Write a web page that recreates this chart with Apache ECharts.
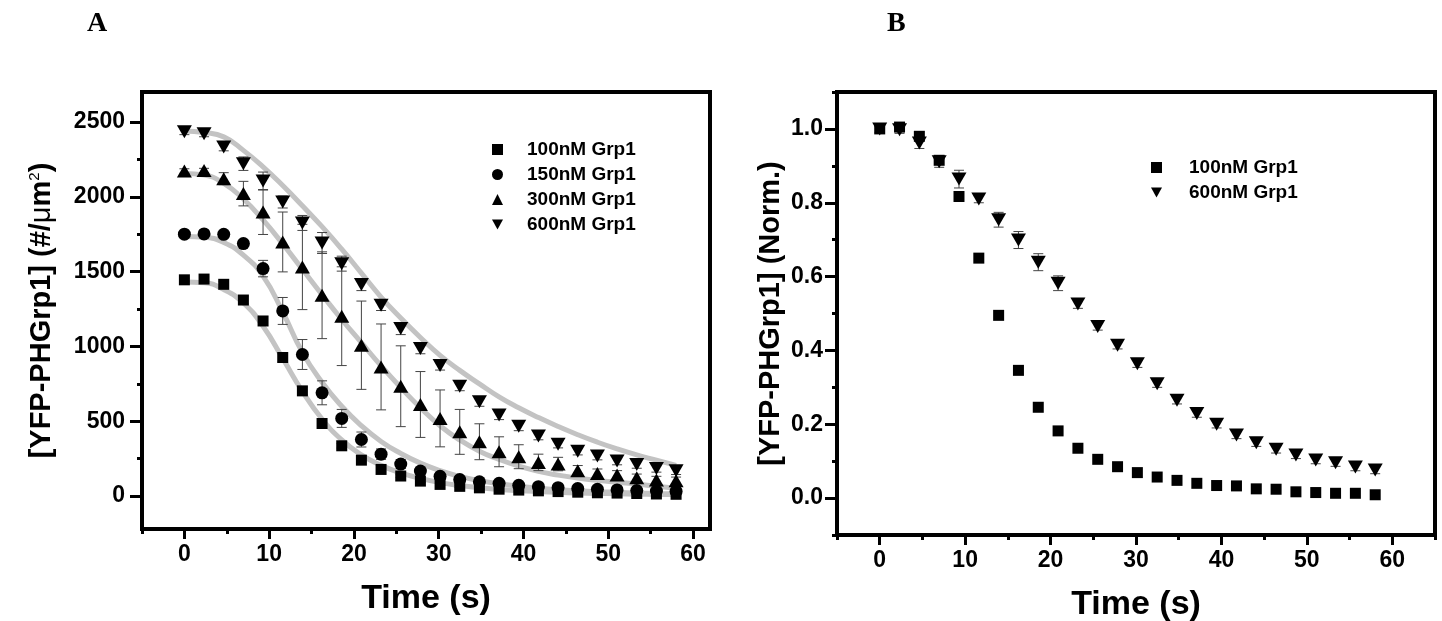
<!DOCTYPE html>
<html><head><meta charset="utf-8">
<script src="https://cdn.jsdelivr.net/npm/echarts@6/dist/echarts.min.js"></script>
<style>html,body{margin:0;padding:0;background:#fff}#c{width:1442px;height:621px}</style>
</head><body><div id="c"></div>
<script>
// ---- data ----
const times = [0, 2.32, 4.64, 6.96, 9.28, 11.6, 13.92, 16.24, 18.56, 20.88, 23.2, 25.52, 27.84, 30.16, 32.48, 34.8, 37.12, 39.44, 41.76, 44.08, 46.4, 48.72, 51.04, 53.36, 55.68, 58];
const namesA = ['100nM Grp1', '150nM Grp1', '300nM Grp1', '600nM Grp1'];
const namesB = ['100nM Grp1', '600nM Grp1'];

// Panel A: density (#/um^2)
const a100 = [1445, 1450, 1415, 1310, 1170, 926, 703, 485, 336, 240, 178, 134, 100, 78, 65, 55, 46, 40, 35, 30, 26, 22, 20, 17, 14, 12];
const a150 = [1750, 1752, 1749, 1687, 1520, 1237, 946, 690, 519, 378, 280, 214, 167, 132, 110, 95, 85, 72, 63, 56, 50, 45, 41, 37, 34, 31];
const a300 = [2172, 2175, 2121, 2021, 1898, 1698, 1531, 1342, 1202, 1008, 863, 734, 612, 519, 429, 363, 296, 263, 225, 214, 169, 151, 140, 122, 107, 102];
const a600 = [2435, 2421, 2332, 2221, 2105, 1965, 1825, 1691, 1553, 1413, 1275, 1119, 986, 872, 734, 630, 541, 467, 401, 347, 300, 267, 234, 211, 185, 169];
const e100 = [10, 15, 20, 25, 30, 30, 25, 20, 15, 12, 10, 10, 10, 8, 8, 8, 8, 8, 8, 8, 8, 8, 8, 8, 8, 8];
const e150 = [10, 10, 10, 20, 55, 90, 100, 80, 60, 50, 35, 30, 25, 20, 18, 16, 15, 15, 15, 15, 15, 15, 15, 15, 15, 15];
const e300 = [15, 15, 40, 82, 150, 200, 285, 290, 330, 295, 287, 270, 220, 190, 150, 120, 100, 80, 55, 45, 35, 30, 30, 25, 25, 25];
const e600 = [20, 20, 25, 45, 60, 40, 50, 70, 50, 40, 35, 40, 35, 30, 30, 30, 30, 30, 25, 25, 25, 25, 25, 25, 25, 25];
// fitted curves (grey)
const f100 = [1430, 1425, 1380, 1290, 1135, 920, 700, 515, 375, 275, 205, 155, 118, 90, 70, 55, 44, 36, 30, 25, 21, 18, 15, 13, 11, 10];
const f150 = [1735, 1730, 1695, 1610, 1470, 1230, 960, 760, 600, 470, 365, 285, 220, 170, 132, 103, 82, 65, 52, 43, 35, 29, 25, 21, 18, 16];
const f300 = [2155, 2145, 2090, 1985, 1845, 1685, 1515, 1345, 1180, 1025, 870, 725, 590, 470, 375, 300, 245, 200, 165, 140, 120, 105, 92, 80, 65, 52];
const f600 = [2440, 2430, 2400, 2310, 2200, 2075, 1940, 1800, 1650, 1490, 1330, 1190, 1060, 940, 840, 750, 663, 590, 525, 465, 410, 360, 315, 275, 240, 205];

// Panel B: normalized
const b100 = [1.0, 1.005, 0.98, 0.915, 0.817, 0.650, 0.495, 0.346, 0.246, 0.182, 0.135, 0.105, 0.085, 0.069, 0.057, 0.048, 0.040, 0.034, 0.033, 0.025, 0.024, 0.017, 0.015, 0.013, 0.013, 0.009];
const b600 = [1.0, 0.998, 0.962, 0.911, 0.864, 0.810, 0.754, 0.699, 0.639, 0.582, 0.526, 0.465, 0.414, 0.364, 0.310, 0.265, 0.229, 0.200, 0.171, 0.150, 0.132, 0.117, 0.103, 0.096, 0.084, 0.076];
const eb600 = [0.01, 0.01, 0.015, 0.015, 0.024, 0.01, 0.02, 0.023, 0.023, 0.02, 0.012, 0.01, 0.01, 0.01, 0.01, 0.01, 0.01, 0.01, 0.01, 0.01, 0.01, 0.01, 0.01, 0.01, 0.01, 0.01];

// ticks
const xMajor = [0, 10, 20, 30, 40, 50, 60];
const xMinorA = [-5, 5, 15, 25, 35, 45, 55];
const xMinorB = [-5, 5, 15, 25, 35, 45, 55, 65];
const yMajorA = [0, 500, 1000, 1500, 2000, 2500];
const yMinorA = [250, 750, 1250, 1750, 2250];
const yMajorB = [0, 0.2, 0.4, 0.6, 0.8, 1.0];
const yMinorB = [-0.1, 0.1, 0.3, 0.5, 0.7, 0.9, 1.1];

// ---- helpers ----
const FONT = 'Arial, "Liberation Sans", sans-serif';
const DOWN = 'path://M0,0L10,0L5,9Z';
const pts = (ys) => times.map((t, i) => [t, ys[i]]);
const errs = (ys, es) => times.map((t, i) => [t, ys[i] - es[i], ys[i] + es[i]]);

function errRender(params, api) {
  const x = api.value(0), lo = api.value(1), hi = api.value(2);
  const a = api.coord([x, lo]), b = api.coord([x, hi]);
  const w = 5, st = {stroke: '#444', lineWidth: 1};
  return {type: 'group', children: [
    {type: 'line', shape: {x1: a[0], y1: a[1], x2: b[0], y2: b[1]}, style: st},
    {type: 'line', shape: {x1: a[0] - w, y1: a[1], x2: a[0] + w, y2: a[1]}, style: st},
    {type: 'line', shape: {x1: b[0] - w, y1: b[1], x2: b[0] + w, y2: b[1]}, style: st}
  ]};
}
function errSeries(data, xi, yi) {
  return {type: 'custom', xAxisIndex: xi, yAxisIndex: yi, renderItem: errRender, data: data,
    encode: {x: 0, y: [1, 2]}, z: 2, silent: true};
}
function fitSeries(ys) {
  return {type: 'line', xAxisIndex: 0, yAxisIndex: 0, data: pts(ys), smooth: true, showSymbol: false,
    symbol: 'none', lineStyle: {color: '#c3c3c3', width: 5}, z: 1, silent: true};
}
function scat(name, ys, xi, yi, symbol, size) {
  return {type: 'scatter', name: name, xAxisIndex: xi, yAxisIndex: yi, data: pts(ys), symbol: symbol,
    symbolSize: size, itemStyle: {color: '#000', opacity: 1}, z: 3};
}
const tickLabel = {fontFamily: FONT, fontWeight: 'bold', fontSize: 23, color: '#000'};
const noLine = {show: false, onZero: false};
function majorX(grid, min, max) {
  return {type: 'value', gridIndex: grid, min: min, max: max, position: 'bottom',
    axisLine: noLine, splitLine: {show: false},
    axisTick: {show: true, customValues: xMajor, length: 10, lineStyle: {color: '#000', width: 3}},
    axisLabel: Object.assign({customValues: xMajor, margin: 14}, tickLabel),
    name: 'Time (s)', nameLocation: 'middle', nameGap: 53,
    nameTextStyle: {fontFamily: FONT, fontWeight: 'bold', fontSize: 34, color: '#000'}};
}
function minorX(grid, min, max, vals) {
  return {type: 'value', gridIndex: grid, min: min, max: max, position: 'bottom',
    axisLine: noLine, splitLine: {show: false}, axisLabel: {show: false},
    axisTick: {show: true, customValues: vals, length: 5, lineStyle: {color: '#000', width: 3}}};
}
function minorY(grid, min, max, vals) {
  return {type: 'value', gridIndex: grid, min: min, max: max, position: 'left',
    axisLine: noLine, splitLine: {show: false}, axisLabel: {show: false},
    axisTick: {show: true, customValues: vals, length: 5, lineStyle: {color: '#000', width: 3}}};
}
const legendText = {fontFamily: FONT, fontWeight: 'bold', fontSize: 19, color: '#000', lineHeight: 19};
const legendItem = {color: '#000', opacity: 1};

const option = {
  animation: false,
  backgroundColor: '#fff',
  title: [
    {text: 'A', left: 87, top: 10, padding: 0, textStyle: {fontFamily: '"Liberation Serif", "Times New Roman", serif', fontWeight: 'bold', fontSize: 28, color: '#000'}},
    {text: 'B', left: 887, top: 10, padding: 0, textStyle: {fontFamily: '"Liberation Serif", "Times New Roman", serif', fontWeight: 'bold', fontSize: 28, color: '#000'}}
  ],
  grid: [
    {left: 142, top: 92, width: 568, height: 437, show: true, borderColor: '#000', borderWidth: 4, backgroundColor: 'transparent', outerBoundsMode: 'none', containLabel: false},
    {left: 837, top: 92, width: 598, height: 443, show: true, borderColor: '#000', borderWidth: 4, backgroundColor: 'transparent', outerBoundsMode: 'none', containLabel: false}
  ],
  legend: [
    {orient: 'vertical', left: 492, top: 140, itemWidth: 11, itemHeight: 11, itemGap: 6, padding: 0,
      itemStyle: legendItem,
      data: [{name: namesA[0], icon: 'rect'}, {name: namesA[1], icon: 'circle'}, {name: namesA[2], icon: 'triangle'}, {name: namesA[3], icon: DOWN}],
      formatter: n => '{g|}' + n, textStyle: Object.assign({rich: {g: {width: 19}}}, legendText), selectedMode: false},
    {orient: 'vertical', left: 1151, top: 158, itemWidth: 11, itemHeight: 11, itemGap: 6, padding: 0,
      itemStyle: legendItem,
      data: [{name: namesB[0], icon: 'rect'}, {name: namesB[1], icon: DOWN}],
      formatter: n => '{g|}' + n, textStyle: Object.assign({rich: {g: {width: 22}}}, legendText), selectedMode: false}
  ],
  xAxis: [
    majorX(0, -5, 62),
    minorX(0, -5, 62, xMinorA),
    majorX(1, -5, 65),
    minorX(1, -5, 65, xMinorB)
  ],
  yAxis: [
    {type: 'value', gridIndex: 0, min: -220, max: 2700, position: 'left',
      axisLine: noLine, splitLine: {show: false},
      axisTick: {show: true, customValues: yMajorA, length: 12, lineStyle: {color: '#000', width: 3}},
      axisLabel: Object.assign({customValues: yMajorA, margin: 17, formatter: v => String(v)}, tickLabel),
      name: '[YFP-PHGrp1] (#/{mu|μ}m{sup|2})', nameLocation: 'middle', nameRotate: 90, nameGap: 86,
      nameTextStyle: {fontFamily: FONT, fontWeight: 'bold', fontSize: 29, color: '#000',
        rich: {mu: {fontFamily: FONT, fontWeight: 'normal', fontSize: 29, color: '#000'},
               sup: {fontFamily: FONT, fontWeight: 'normal', fontSize: 15, color: '#000', padding: [0, 0, 13, 0]}}}},
    minorY(0, -220, 2700, yMinorA),
    {type: 'value', gridIndex: 1, min: -0.1, max: 1.1, position: 'left',
      axisLine: noLine, splitLine: {show: false},
      axisTick: {show: true, customValues: yMajorB, length: 12, lineStyle: {color: '#000', width: 3}},
      axisLabel: Object.assign({customValues: yMajorB, margin: 14, formatter: v => v.toFixed(1)}, tickLabel),
      name: '[YFP-PHGrp1] (Norm.)', nameLocation: 'middle', nameRotate: 90, nameGap: 52,
      nameTextStyle: {fontFamily: FONT, fontWeight: 'bold', fontSize: 29, color: '#000'}},
    minorY(1, -0.1, 1.1, yMinorB)
  ],
  series: [
    fitSeries(f100), fitSeries(f150), fitSeries(f300), fitSeries(f600),
    errSeries(errs(a100, e100), 0, 0), errSeries(errs(a150, e150), 0, 0),
    errSeries(errs(a300, e300), 0, 0), errSeries(errs(a600, e600), 0, 0),
    scat(namesA[0], a100, 0, 0, 'rect', 11),
    scat(namesA[1], a150, 0, 0, 'circle', 13),
    scat(namesA[2], a300, 0, 0, 'triangle', [15, 13]),
    scat(namesA[3], a600, 0, 0, DOWN, [15, 13]),
    errSeries(errs(b600, eb600), 2, 2),
    scat(namesB[0], b100, 2, 2, 'rect', 11),
    scat(namesB[1], b600, 2, 2, DOWN, [15, 13])
  ]
};
const chart = echarts.init(document.getElementById('c'), null, {renderer: 'canvas'});
chart.setOption(option);
</script></body></html>
